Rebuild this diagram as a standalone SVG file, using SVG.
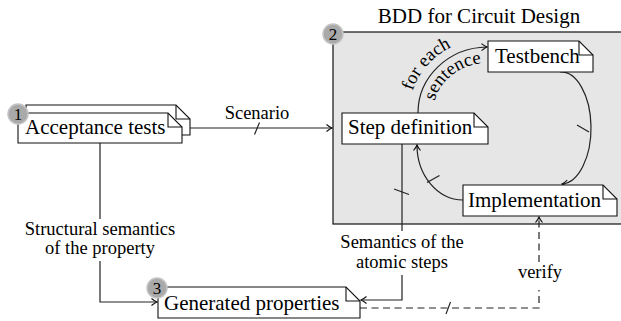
<svg xmlns="http://www.w3.org/2000/svg" width="621" height="321" viewBox="0 0 621 321">
<defs>
<style>
text{font-family:'Liberation Serif','Times New Roman',Times,serif}
.doc{fill:#fff;stroke:#111;stroke-width:1.1}
.fold{fill:none;stroke:#111;stroke-width:1.1}
.nt{font-size:21px;fill:#000}
.lb{font-size:18.5px;fill:#000}
.num{font-size:17px;fill:#000;text-anchor:middle}
.badge{fill:#a9a9a9;stroke:#c4c4c4;stroke-width:1.5}
.ln{fill:none;stroke:#222;stroke-width:1.2}
.dash{fill:none;stroke:#222;stroke-width:1.2;stroke-dasharray:7 4.5}
.tick{stroke:#222;stroke-width:1.2}
</style>
<marker id="ah" viewBox="-7 -5 8 10" refX="0" refY="0" markerWidth="8" markerHeight="10" orient="auto" markerUnits="userSpaceOnUse">
<path d="M-5.5,-3.5 Q-2,-0.6 0,0 Q-2,0.6 -5.5,3.5" fill="none" stroke="#111" stroke-width="1.1"/>
</marker>
<path id="outerArc" d="M409,113 A78,74 0 0 1 487,39"/>
<path id="innerArc" d="M433,113 A54,50 0 0 1 487,63"/>
</defs>
<rect width="621" height="321" fill="#fff"/>

<g id="bdd-group">
<rect x="333" y="32" width="300" height="192" fill="#e6e6e6" stroke="#111" stroke-width="1.2"/>
<text class="nt" x="479" y="23" text-anchor="middle">BDD for Circuit Design</text>
</g>

<g id="connectors">
<path class="ln" d="M182,128 L332,128" marker-end="url(#ah)"/>
<line class="tick" x1="254.5" y1="134.5" x2="259.5" y2="122.5"/>
<text class="lb" x="257" y="119" text-anchor="middle">Scenario</text>
<path class="ln" d="M100,143 L100,219"/>
<path class="ln" d="M100,261 L100,302 L157,302" marker-end="url(#ah)"/>
<text class="lb" x="100" y="235" text-anchor="middle">Structural semantics</text>
<text class="lb" x="100" y="254" text-anchor="middle">of the property</text>
<path class="ln" d="M402,144 L402,231"/>
<path class="ln" d="M402,275 L402,300 L361,300" marker-end="url(#ah)"/>
<line class="tick" x1="394" y1="189" x2="409" y2="194.5"/>
<text class="lb" x="402" y="248" text-anchor="middle">Semantics of the</text>
<text class="lb" x="402" y="268" text-anchor="middle">atomic steps</text>
<path class="dash" d="M360,308 L539,308 L539,290"/>
<path class="dash" d="M539,262 L539,217" marker-end="url(#ah)"/>
<line class="tick" x1="446" y1="314" x2="450.5" y2="302"/>
<text class="lb" x="540" y="278" text-anchor="middle">verify</text>
<path class="ln" d="M418,113 A70,66 0 0 1 487,47" marker-end="url(#ah)"/>
<text class="lb"><textPath href="#outerArc" startOffset="44%" text-anchor="middle">for each</textPath></text>
<text class="lb"><textPath href="#innerArc" startOffset="54%" text-anchor="middle">sentence</textPath></text>
<path class="ln" d="M560,72 A30,56 0 0 1 562,184" marker-end="url(#ah)"/>
<line class="tick" x1="577" y1="125" x2="589" y2="132"/>
<path class="ln" d="M463,200 A46,55 0 0 1 417,145" marker-end="url(#ah)"/>
<line class="tick" x1="427" y1="182.5" x2="439.5" y2="175.5"/>
</g>

<g id="acceptance-tests">
<polygon class="doc" points="26,105 176,105 190,119 190,135 26,135"/>
<polyline class="fold" points="176,105 176,119 190,119"/>
<polygon class="doc" points="18,113 168,113 182,127 182,143 18,143"/>
<polyline class="fold" points="168,113 168,127 182,127"/>
<text class="nt" x="25" y="134">Acceptance tests</text>
<circle class="badge" cx="18" cy="114" r="10"/>
<text class="num" x="18" y="120">1</text>
</g>

<g id="badge-2">
<circle class="badge" cx="333" cy="34" r="10"/>
<text class="num" x="333" y="40">2</text>
</g>

<g id="step-definition">
<polygon class="doc" points="342,113 474,113 488,127 488,144 342,144"/>
<polyline class="fold" points="474,113 474,127 488,127"/>
<text class="nt" x="348" y="134">Step definition</text>
</g>

<g id="testbench">
<polygon class="doc" points="488,41 579,41 593,55 593,72 488,72"/>
<polyline class="fold" points="579,41 579,55 593,55"/>
<text class="nt" x="495" y="63">Testbench</text>
</g>

<g id="implementation">
<polygon class="doc" points="463,185 603,185 617,199 617,216 463,216"/>
<polyline class="fold" points="603,185 603,199 617,199"/>
<text class="nt" x="468" y="207">Implementation</text>
</g>

<g id="generated-properties">
<polygon class="doc" points="158,287 346,287 360,301 360,318 158,318"/>
<polyline class="fold" points="346,287 346,301 360,301"/>
<text class="nt" x="164" y="310">Generated properties</text>
<circle class="badge" cx="157" cy="288" r="10"/>
<text class="num" x="157" y="294">3</text>
</g>
</svg>
